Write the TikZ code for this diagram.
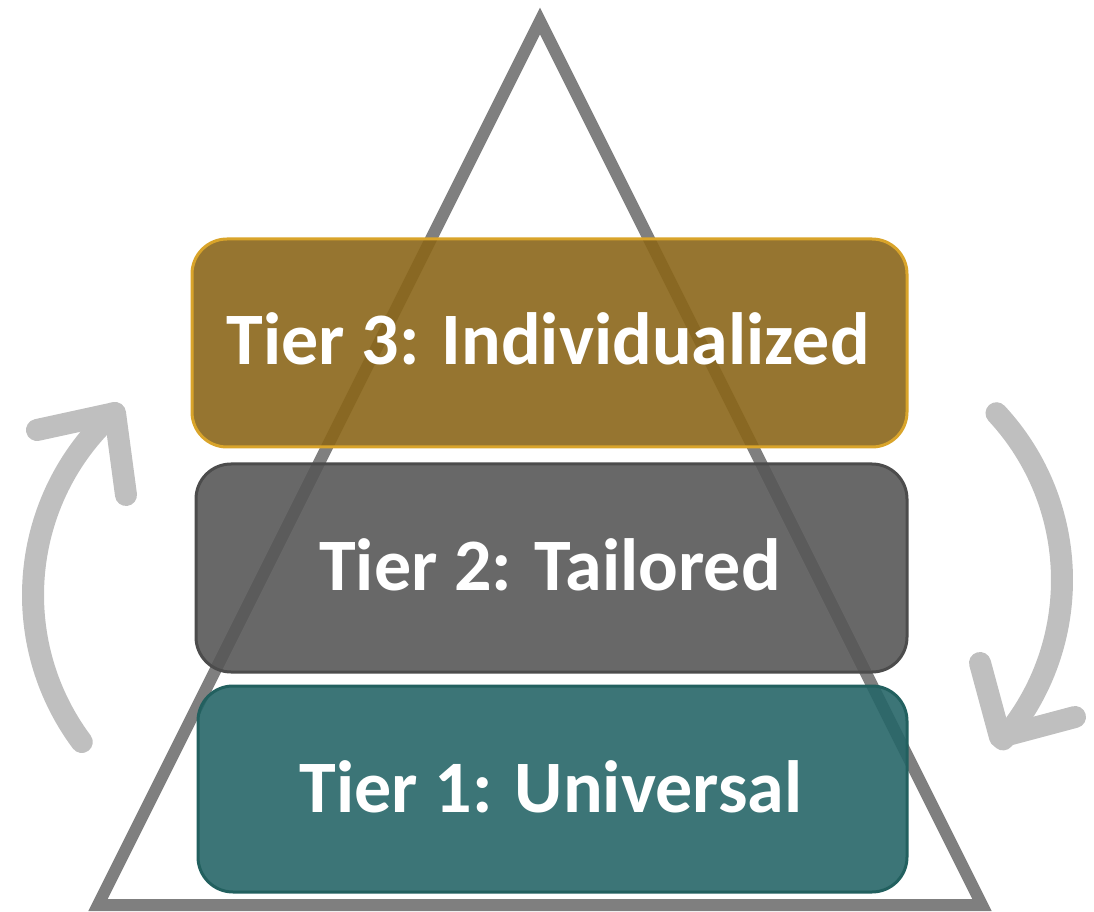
\documentclass[tikz,border=0pt]{standalone}
\usepackage{fontspec}
\setmainfont{Carlito}
\definecolor{trigray}{HTML}{7F7F7F}
\definecolor{arrowgray}{HTML}{BFBFBF}
\definecolor{tthreefill}{HTML}{8B6619}
\definecolor{tthreeline}{HTML}{D9A42A}
\definecolor{ttwofill}{HTML}{585858}
\definecolor{ttwoline}{HTML}{4C4C4C}
\definecolor{tonefill}{HTML}{276668}
\definecolor{toneline}{HTML}{22605F}
\tikzset{
  tierbox/.style={rounded corners=35pt, line width=3pt, fill opacity=0.9},
  tierlabel/.style={anchor=base, text=white, font=\fontsize{74}{80}\selectfont\bfseries, inner sep=0pt},
  cyclearrow/.style={draw=arrowgray, line width=22pt, line cap=round, line join=round},
}
\begin{document}
\begin{tikzpicture}[x=1pt,y=1pt]
\useasboundingbox (0,0) rectangle (1094,911);
% pyramid
\coordinate (apex) at (540,890);
\coordinate (bl) at (98,6);
\coordinate (br) at (982,6);
\draw[trigray, line width=12pt, line join=miter] (bl) -- (apex) -- (br) -- cycle;
% tiers
\draw[tierbox, draw=tthreeline, fill=tthreefill] (192,464) rectangle (907,672);
\draw[tierbox, draw=ttwoline, fill=ttwofill] (196,239) rectangle (907,447);
\draw[tierbox, draw=toneline, fill=tonefill] (198,19) rectangle (907,225);
\node[tierlabel] (t3) at (548,546) {Tier 3: Individualized};
\node[tierlabel] (t2) at (550,321) {Tier 2: Tailored};
\node[tierlabel] (t1) at (551,99) {Tier 1: Universal};
% left cycle arrow (upwards)
\coordinate (lc) at (279,316);
\draw[cyclearrow] (lc) ++(216.7:246) arc[start angle=216.7, end angle=132.4, radius=246];
\coordinate (ltip) at (115,498);
\coordinate (lb1) at (37,481);
\coordinate (lb2) at (126,416);
\draw[cyclearrow] (lb1) -- (ltip) -- (lb2);
% right cycle arrow (downwards)
\coordinate (rc) at (817,331);
\draw[cyclearrow] (rc) ++(42.9:245) arc[start angle=42.9, end angle=-40.6, radius=245];
\coordinate (rtip) at (1000,174);
\coordinate (rb1) at (980,248);
\coordinate (rb2) at (1075,194);
\draw[cyclearrow] (rb1) -- (rtip) -- (rb2);
\end{tikzpicture}
\end{document}
